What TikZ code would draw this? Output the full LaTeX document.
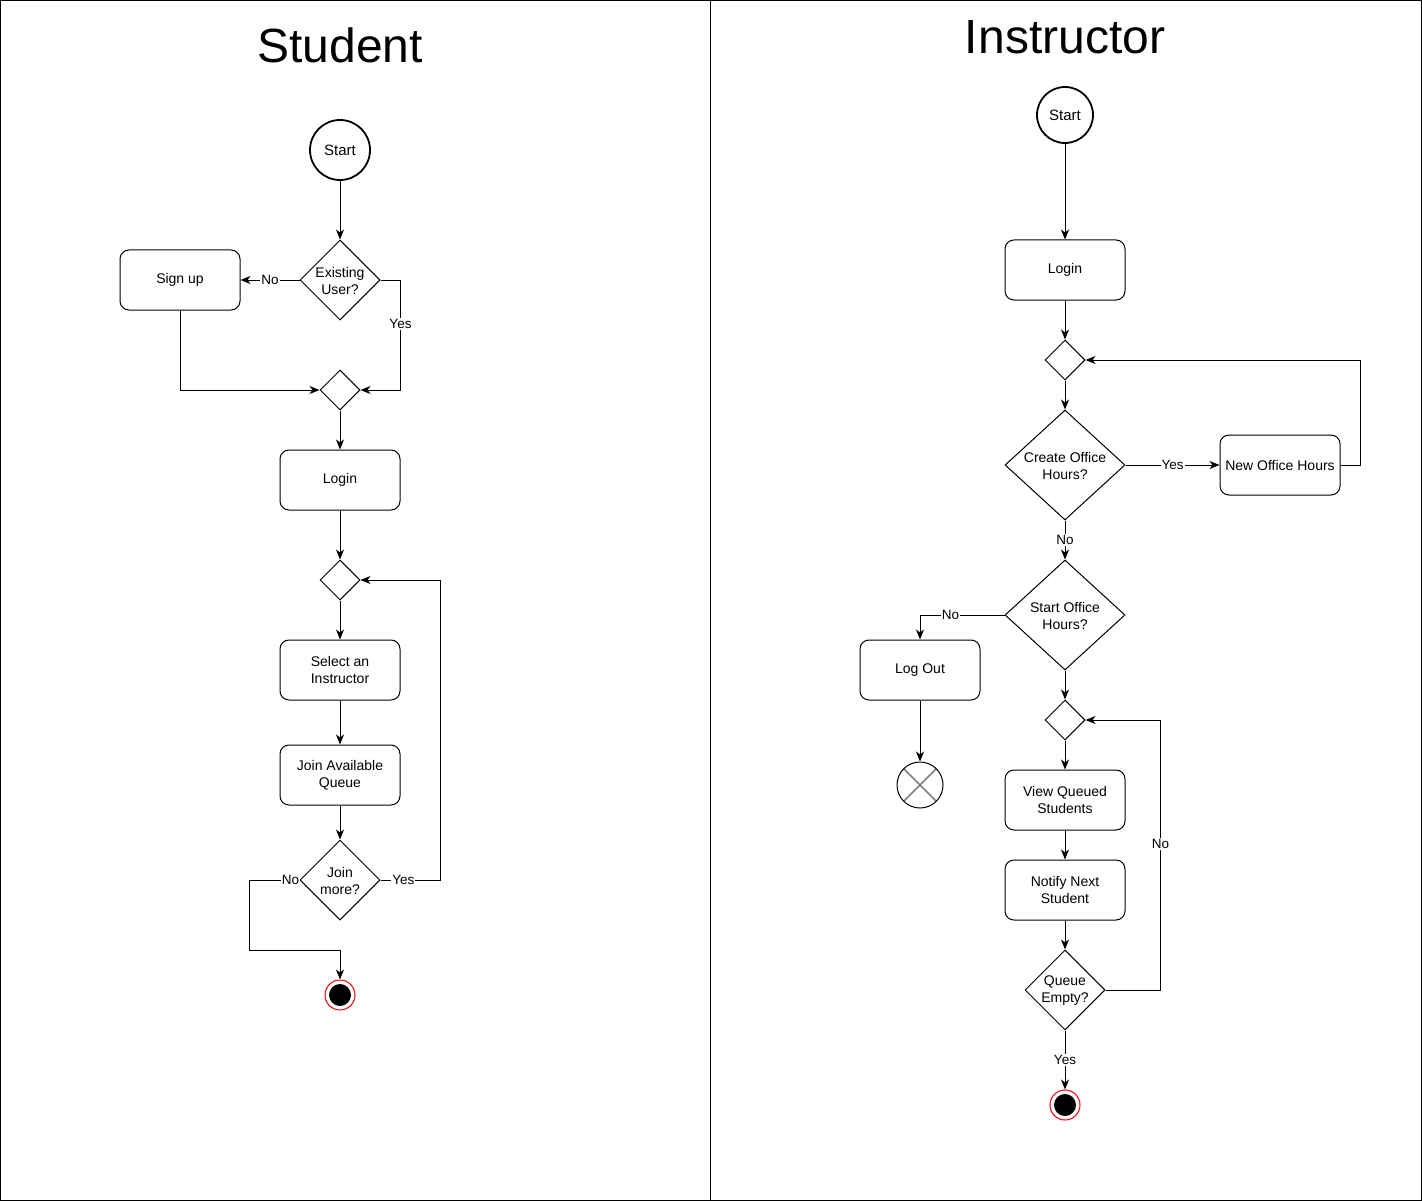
\documentclass[tikz,border=0pt]{standalone}
\usepackage{fontspec}
\setmainfont{Liberation Sans}
\usetikzlibrary{shapes.geometric,arrows.meta}

\begin{document}
\begin{tikzpicture}[x=1pt, y=-1pt,
    txt/.style={font=\fontsize{14}{17}\selectfont, align=center},
    startnode/.style={circle, draw, line width=1.8pt, minimum size=60, inner sep=0pt, font=\fontsize{15}{18}\selectfont},
    proc/.style={rectangle, rounded corners=9, draw, line width=1pt, minimum width=120, minimum height=60, inner sep=0pt, txt},
    dec/.style={diamond, draw, line width=1pt, inner sep=0pt, minimum width=80, minimum height=80},
    endnode/.style={circle, draw=red, line width=1pt, fill=white, minimum size=30, inner sep=0pt,
      path picture={\fill[black] (path picture bounding box.center) circle (11pt);}},
    killnode/.style={circle, draw, line width=1pt, fill=white, minimum size=46, inner sep=0pt,
      path picture={\draw[gray, line width=1.6pt] (path picture bounding box.north west) -- (path picture bounding box.south east)
        (path picture bounding box.north east) -- (path picture bounding box.south west);}},
    arr/.style={line width=1pt, -{Stealth[length=10pt, width=8pt, inset=3pt]}},
    lbl/.style={fill=white, inner sep=1pt, font=\fontsize{13.5}{16}\selectfont},
    title/.style={font=\fontsize{48}{58}\selectfont}]
  \useasboundingbox (0,0) rectangle (1422,1201);

  % Swimlanes
  \draw[line width=1pt] (0.5,0.5) rectangle (1421.5,1200.5);
  \draw[line width=1pt] (710.5,0.5) -- (710.5,1200.5);
  \node[title] (sTitle) at (340,45) {Student};
  \node[title] (iTitle) at (1065,37) {Instructor};

  % Student flow
  \node[startnode] (sStart) at (340,150) {Start};
  \node[dec, label={[txt, yshift=-1]center:Existing\\User?}] (sExist) at (340,280) {};
  \node[proc] (sSignup) at (180,280) {Sign up};
  \node[dec, minimum width=40, minimum height=40] (sMergeA) at (340,390) {};
  \node[proc] (sLogin) at (340,480) {Login};
  \node[dec, minimum width=40, minimum height=40] (sMergeB) at (340,580) {};
  \node[proc] (sSelect) at (340,670) {Select an\\Instructor};
  \node[proc] (sJoin) at (340,775) {Join Available\\Queue};
  \node[dec, label={[txt, yshift=-1]center:Join\\more?}] (sMore) at (340,880) {};
  \node[endnode] (sEnd) at (340,995) {};

  \draw[arr] (sStart) -- (sExist);
  \draw[arr] (sExist.west) -- node[lbl] {No} (sSignup.east);
  \draw[arr] (sExist.east) -- ++(20,0) |- node[lbl, pos=0.2] {Yes} (sMergeA.east);
  \draw[arr] (sSignup.south) |- (sMergeA.west);
  \draw[arr] (sMergeA) -- (sLogin);
  \draw[arr] (sLogin) -- (sMergeB);
  \draw[arr] (sMergeB) -- (sSelect);
  \draw[arr] (sSelect) -- (sJoin);
  \draw[arr] (sJoin) -- (sMore);
  \draw[arr] (sMore.east) -- node[lbl, pos=0.38] {Yes} ++(60,0) |- (sMergeB.east);
  \draw[arr] (sMore.west) -- node[lbl, pos=0.18] {No} ++(-50,0) -- ++(0,70) -| (sEnd.north);

  % Instructor flow
  \node[startnode, minimum size=56] (iStart) at (1065,115) {Start};
  \node[proc] (iLogin) at (1065,270) {Login};
  \node[dec, minimum width=40, minimum height=40] (iMergeA) at (1065,360) {};
  \node[dec, minimum width=120, minimum height=110, label={[txt, yshift=-1]center:Create Office\\Hours?}] (iCreate) at (1065,465) {};
  \node[proc] (iNew) at (1280,465) {New Office Hours};
  \node[dec, minimum width=120, minimum height=110, label={[txt, yshift=-1]center:Start Office\\Hours?}] (iStartOH) at (1065,615) {};
  \node[proc] (iLogout) at (920,670) {Log Out};
  \node[killnode] (iKill) at (920,785) {};
  \node[dec, minimum width=40, minimum height=40] (iMergeB) at (1065,720) {};
  \node[proc] (iView) at (1065,800) {View Queued\\Students};
  \node[proc] (iNotify) at (1065,890) {Notify Next\\Student};
  \node[dec, label={[txt, yshift=-1]center:Queue\\Empty?}] (iEmpty) at (1065,990) {};
  \node[endnode] (iEnd) at (1065,1105) {};

  \draw[arr] (iStart) -- (iLogin);
  \draw[arr] (iLogin) -- (iMergeA);
  \draw[arr] (iMergeA) -- (iCreate);
  \draw[arr] (iCreate.east) -- node[lbl] {Yes} (iNew.west);
  \draw[arr] (iNew.east) -- ++(20,0) |- (iMergeA.east);
  \draw[arr] (iCreate.south) -- node[lbl] {No} (iStartOH.north);
  \draw[arr] (iStartOH.west) -| node[lbl, pos=0.32] {No} (iLogout.north);
  \draw[arr] (iLogout) -- (iKill);
  \draw[arr] (iStartOH.south) -- (iMergeB.north);
  \draw[arr] (iMergeB) -- (iView);
  \draw[arr] (iView) -- (iNotify);
  \draw[arr] (iNotify) -- (iEmpty);
  \draw[arr] (iEmpty.east) -- ++(55,0) |- node[lbl, pos=0.27] {No} (iMergeB.east);
  \draw[arr] (iEmpty.south) -- node[lbl] {Yes} (iEnd.north);
\end{tikzpicture}
\end{document}
